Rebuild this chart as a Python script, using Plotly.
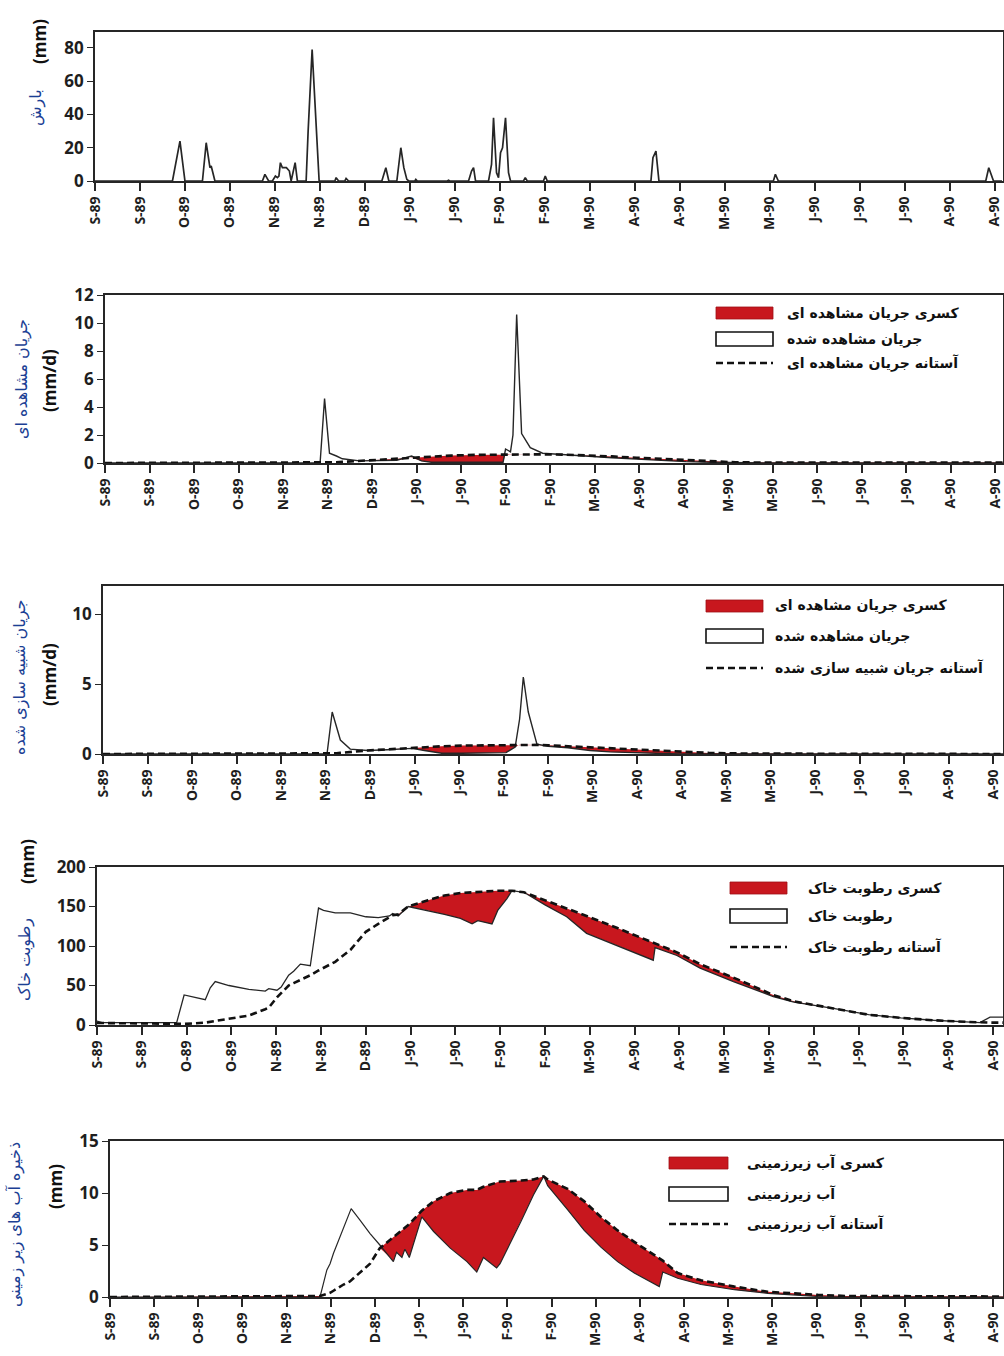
import plotly.graph_objects as go

W, H = 1004, 1356
RED = "#c8171e"
INK = "#262626"
BLUE = "#1c3f94"

# ---------------- data ----------------
TICK_DAYS = [0, 18, 36, 54, 72, 90, 108, 126, 144, 162, 180, 198, 216, 234,
             252, 270, 288, 306, 324, 342, 360]
TICK_LABELS = ["S-89", "S-89", "O-89", "O-89", "N-89", "N-89", "D-89", "J-90",
               "J-90", "F-90", "F-90", "M-90", "A-90", "A-90", "M-90", "M-90",
               "J-90", "J-90", "J-90", "A-90", "A-90"]

# precipitation (day since 1 Sep 1989, mm)
RAIN_DAYS = [0, 31, 34, 36, 43, 44.5, 46, 46.5, 48, 67, 68, 69.5, 71, 72.2, 73,
             73.6, 74.2, 75, 76.6, 77.8, 78.5, 80.1, 81, 84.5, 85.3, 86.9, 89.7,
             96, 96.5, 97.5, 100, 100.5, 101.5, 114.8, 116.4, 117.6, 120.8, 122.4,
             123.6, 124.8, 125.6, 128, 128.4, 129, 141, 141.5, 142, 149.5, 150.7,
             151.5, 152.3, 157.5, 158.7, 159.5, 160.7, 161.5, 162.3, 163.1, 164.3,
             165.5, 166.3, 171.5, 172.2, 173, 179.5, 180.2, 181, 222.5, 223.3,
             224.5, 225.7, 271.5, 272.3, 273.5, 356.5, 357.7, 359.6, 363]
RAIN_MM = [0, 0, 24, 0, 0, 23, 8, 9, 0, 0, 4, 0, 0, 3, 2,
           3, 11, 8, 8, 6, 0, 11, 0, 0, 30, 79, 0,
           0, 2, 0, 0, 1.5, 0, 0, 8, 0, 0, 20,
           8, 1, 0, 0, 1, 0, 0, 0.5, 0, 0, 6,
           8, 0, 0, 10, 38, 5, 2, 17, 20, 38,
           5, 0, 0, 2, 0, 0, 3, 0, 0, 14,
           18, 0, 0, 4, 0, 0, 8, 0, 0]

# observed streamflow (mm/d)
OBS_DAYS = [0, 87, 88.8, 90.8, 93.6, 96, 103, 110, 118, 124, 128, 132, 140, 150,
            158, 161, 162, 164, 165, 166.5, 168.5, 172, 177, 185, 195, 205, 215,
            225, 235, 245, 255, 270, 300, 363]
OBS_FLOW = [0, 0, 4.6, 0.7, 0.5, 0.3, 0.15, 0.15, 0.2, 0.5, 0.15, 0.05, 0.05, 0.05,
            0.05, 0.05, 1.0, 0.8, 2.0, 10.6, 2.1, 1.1, 0.7, 0.6, 0.5, 0.38, 0.28,
            0.18, 0.1, 0.05, 0.02, 0, 0, 0]
OBS_THRESHOLD = [0, 0, 0, 0.02, 0.05, 0.08, 0.15, 0.22, 0.3, 0.38, 0.42, 0.46, 0.53,
                 0.58, 0.6, 0.62, 0.62, 0.63, 0.63, 0.63, 0.63, 0.63, 0.62, 0.6,
                 0.55, 0.47, 0.38, 0.3, 0.2, 0.1, 0.05, 0.03, 0.03, 0.03]

# simulated streamflow (mm/d)
SIM_DAYS = [0, 90.6, 92.7, 94.5, 96, 100, 107, 115, 125, 130, 137, 145, 155, 163,
            166.7, 168.5, 170, 172, 175.5, 180, 188, 197, 205, 214, 223, 233, 245,
            260, 280, 300, 364]
SIM_FLOW = [0, 0, 3.0, 2.0, 1.0, 0.35, 0.25, 0.3, 0.4, 0.25, 0.05, 0.05, 0.05, 0.1,
            0.5, 2.5, 5.5, 3.0, 0.7, 0.55, 0.45, 0.25, 0.15, 0.1, 0.05, 0, 0, 0, 0,
            0, 0]
SIM_THRESHOLD = [0, 0, 0.02, 0.05, 0.08, 0.15, 0.25, 0.33, 0.45, 0.5, 0.55, 0.6,
                 0.63, 0.65, 0.66, 0.66, 0.66, 0.66, 0.65, 0.62, 0.55, 0.47, 0.4,
                 0.32, 0.25, 0.15, 0.08, 0.03, 0.02, 0.01, 0]

# soil moisture (mm)
SM_DAYS = [0, 2, 32, 35, 43.5, 45.5, 47.5, 53, 61, 67.6, 69, 72.3, 74, 77, 79, 81.7,
           85.7, 89, 91, 95.7, 101.8, 108, 113, 117.5, 118.8, 121, 125, 133, 139.6,
           146, 150.7, 153, 158.7, 161, 164.7, 166.7, 171.5, 180, 188.7, 196.7,
           208.8, 223.5, 224.2, 233, 242.3, 255.7, 271.7, 280, 295.8, 310, 323,
           336, 349, 354.7, 358.8, 364]
SM_VALUES = [5, 3, 3, 38, 32, 47, 55, 50, 45, 43, 46, 44, 48, 63, 68, 77,
             75, 148, 145, 142, 142, 137, 136, 138, 141, 138, 150, 145, 140,
             135, 128, 132, 128, 145, 160, 170, 168, 152, 137, 116,
             101, 82, 98, 88, 72, 55, 36, 29, 21, 13, 9,
             6, 4, 3, 10, 10]
SM_THRESHOLD = [2.5, 2.5, 1.5, 1.3, 3, 4, 5, 7.5, 12, 20, 22, 35, 40, 50, 53, 57,
                63, 69, 72, 80, 95, 118, 128, 137, 139, 140, 150, 158, 164,
                167, 168, 169, 170, 170, 170, 170, 168, 158, 147, 138,
                123, 104, 103, 92, 77, 60, 38, 30, 21, 13, 9,
                6, 4, 3, 3, 3]

# groundwater storage (mm)
GW_DAYS = [0, 85.6, 88.4, 89.7, 91.1, 93.8, 95.2, 97.8, 98.3, 101.9, 106, 110,
           114.2, 115.5, 116.8, 119, 120.2, 122, 127.1, 131.9, 138.7, 145.5, 149.5,
           152.2, 157.6, 159, 167.6, 172.6, 176.8, 178.4, 186.5, 193.3, 200.1,
           206.9, 213.7, 221.8, 223.9, 225.3, 231.4, 240.9, 254.5, 268.1, 279,
           288.6, 300, 364]
GW_VALUES = [0, 0, 2.6, 3.2, 4.2, 5.8, 6.8, 8.2, 8.5, 7.4, 6.1, 5.0,
             3.8, 3.4, 4.3, 3.8, 4.6, 3.8, 7.7, 6.3, 4.7, 3.4, 2.4,
             3.8, 2.8, 3.2, 7.3, 9.8, 11.6, 10.7, 8.4, 6.4, 4.8,
             3.4, 2.3, 1.3, 1.0, 2.4, 1.8, 1.2, 0.7, 0.35, 0.2,
             0.05, 0, 0]
GW_THRESHOLD = [0, 0.1, 0.3, 0.4, 0.6, 1.0, 1.2, 1.5, 1.6, 2.3, 3.2, 4.7,
                5.5, 5.8, 6.0, 6.5, 6.7, 7.0, 8.3, 9.2, 10.0, 10.3, 10.3,
                10.6, 11.0, 11.1, 11.2, 11.3, 11.6, 11.3, 10.4, 9.2, 7.7,
                6.4, 5.3, 4.0, 3.7, 3.5, 2.3, 1.6, 1.0, 0.5, 0.35,
                0.2, 0.1, 0.05]

Y_TITLES = ["بارش", "جریان مشاهده ای", "جریان شبیه سازی شده", "رطوبت خاک",
            "ذخیره آب های زیر زمینی"]
Y_UNITS = ["(mm)", "(mm/d)", "(mm/d)", "(mm)", "(mm)"]
LEGENDS = [
    None,
    ["کسری جریان مشاهده ای", "جریان مشاهده شده", "آستانه جریان مشاهده ای"],
    ["کسری جریان مشاهده ای", "جریان مشاهده شده", "آستانه جریان شبیه سازی شده"],
    ["کسری رطوبت خاک", "رطوبت خاک", "آستانه رطوبت خاک"],
    ["کسری آب زیرزمینی", "آب زیرزمینی", "آستانه آب زیرزمینی"],
]

# ---------------- layout geometry (pixels) ----------------
BOXES = [  # left, top, right, bottom
    (95, 32, 1003, 181),
    (105, 295, 1003, 463),
    (103, 586, 1003, 754),
    (97, 867, 1003, 1025),
    (110, 1141, 1003, 1297),
]
X_MAX = [363.4, 363.2, 364, 364, 364]
Y_RANGES = [(0, 89.6), (0, 12), (0, 12), (0, 200), (0, 15)]
Y_DTICK = [20, 2, 5, 50, 5]
TITLE_POS = [((36, 108), (39, 42)), ((22, 379), (50, 381)), ((20, 678), (50, 675)),
             ((25, 960), (27, 862)), ((15, 1225), (55, 1187))]
# legend: symbol x0, x1, three row y-centers, text left x
LEG_GEOM = [None,
            (716, 773, (313, 339, 363), 785),
            (706, 763, (606, 636, 668), 773),
            (730, 787, (888, 916, 947), 806),
            (669, 728, (1163, 1194, 1224), 745)]


def fx(px):
    return px / W


def fy(py):
    return 1 - py / H


fig = go.Figure()


def ax(i):
    return ("x" if i == 0 else f"x{i+1}", "y" if i == 0 else f"y{i+1}")


# panel 1: precipitation
xa, ya = ax(0)
fig.add_trace(go.Scatter(x=RAIN_DAYS, y=RAIN_MM, mode="lines",
                         line=dict(color=INK, width=1.7), xaxis=xa, yaxis=ya,
                         showlegend=False, hoverinfo="skip"))

series = [(OBS_DAYS, OBS_FLOW, OBS_THRESHOLD),
          (SIM_DAYS, SIM_FLOW, SIM_THRESHOLD),
          (SM_DAYS, SM_VALUES, SM_THRESHOLD),
          (GW_DAYS, GW_VALUES, GW_THRESHOLD)]
line_w = [1.4, 1.4, 1.3, 1.2]
for k, (d, v, t) in enumerate(series):
    i = k + 1
    xa, ya = ax(i)
    lower = [min(a, b) for a, b in zip(v, t)]
    fig.add_trace(go.Scatter(x=d, y=t, mode="lines", line=dict(width=0),
                             xaxis=xa, yaxis=ya, showlegend=False, hoverinfo="skip"))
    fig.add_trace(go.Scatter(x=d, y=lower, mode="lines", line=dict(width=0),
                             fill="tonexty", fillcolor=RED,
                             xaxis=xa, yaxis=ya, showlegend=False, hoverinfo="skip"))
    fig.add_trace(go.Scatter(x=d, y=v, mode="lines",
                             line=dict(color=INK, width=line_w[k]),
                             xaxis=xa, yaxis=ya, showlegend=False, hoverinfo="skip"))
    fig.add_trace(go.Scatter(x=d, y=t, mode="lines",
                             line=dict(color="#111111", width=2.6, dash="7px,4px"),
                             xaxis=xa, yaxis=ya, showlegend=False, hoverinfo="skip"))

layout = dict(width=W, height=H, autosize=False,
              margin=dict(l=0, r=0, t=0, b=0, pad=0, autoexpand=False),
              paper_bgcolor="white", plot_bgcolor="white", showlegend=False)

shapes = []
annotations = []
for i, (l, t, r, b) in enumerate(BOXES):
    xname = "xaxis" if i == 0 else f"xaxis{i+1}"
    yname = "yaxis" if i == 0 else f"yaxis{i+1}"
    xa, ya = ax(i)
    layout[xname] = dict(
        domain=[fx(l), fx(r)], range=[0, X_MAX[i]], anchor=ya,
        tickmode="array", tickvals=TICK_DAYS, ticktext=TICK_LABELS,
        tickangle=-90, ticks="outside", ticklen=8, tickwidth=1.6, tickcolor=INK,
        showline=True, linecolor=INK, linewidth=1.6, mirror=True,
        showgrid=False, zeroline=False, automargin=False,
        ticklabeloverflow="allow",
        tickfont=dict(family="Open Sans", size=14, color="#1e1e1e", weight="bold"))
    layout[yname] = dict(
        domain=[fy(b), fy(t)], range=list(Y_RANGES[i]), dtick=Y_DTICK[i],
        anchor=xa, ticks="outside", ticklen=6, tickwidth=1.4, tickcolor=INK,
        showline=True, linecolor=INK, linewidth=1.6, mirror=True,
        showgrid=False, zeroline=False, automargin=False,
        ticklabeloverflow="allow",
        tickfont=dict(family="Open Sans", size=17, color="#1e1e1e", weight="bold"))

    (tx, ty), (ux, uy) = TITLE_POS[i]
    annotations.append(dict(x=fx(tx), y=fy(ty), xref="paper", yref="paper",
                            text=Y_TITLES[i], showarrow=False, textangle=-90,
                            xanchor="center", yanchor="middle",
                            font=dict(family="DejaVu Sans", size=16, color=BLUE)))
    annotations.append(dict(x=fx(ux), y=fy(uy), xref="paper", yref="paper",
                            text=Y_UNITS[i], showarrow=False, textangle=-90,
                            xanchor="center", yanchor="middle",
                            font=dict(family="Open Sans", size=17, color="#111111",
                                      weight="bold")))

    if LEGENDS[i]:
        x0, x1, rows, tx0 = LEG_GEOM[i]
        r0, r1, r2 = rows
        shapes.append(dict(type="rect", xref="paper", yref="paper",
                           x0=fx(x0), x1=fx(x1), y0=fy(r0 - 6), y1=fy(r0 + 6),
                           fillcolor=RED, line=dict(color="#a01015", width=0.8)))
        shapes.append(dict(type="rect", xref="paper", yref="paper",
                           x0=fx(x0), x1=fx(x1), y0=fy(r1 - 7), y1=fy(r1 + 7),
                           fillcolor="white", line=dict(color="#111111", width=1.6)))
        shapes.append(dict(type="line", xref="paper", yref="paper",
                           x0=fx(x0), x1=fx(x1), y0=fy(r2), y1=fy(r2),
                           line=dict(color="#111111", width=2.6, dash="7px,4px")))
        for txt, ry in zip(LEGENDS[i], rows):
            annotations.append(dict(x=fx(tx0), y=fy(ry), xref="paper", yref="paper",
                                    text=txt, showarrow=False, xanchor="left",
                                    yanchor="middle",
                                    font=dict(family="DejaVu Sans", size=14,
                                              color="#111111", weight="bold")))

layout["shapes"] = shapes
layout["annotations"] = annotations
fig.update_layout(**layout)
fig.write_html("out.html")
